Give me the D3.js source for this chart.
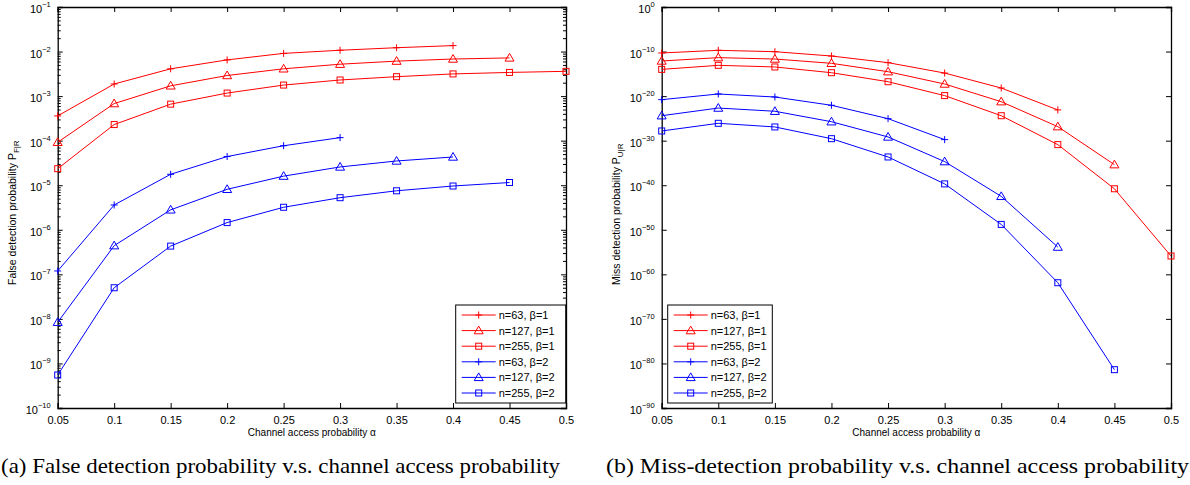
<!DOCTYPE html>
<html>
<head>
<meta charset="utf-8">
<script src="https://cdn.jsdelivr.net/npm/d3@7"></script>
<style>
  body { margin: 0; background: #fff; }
  svg { display: block; }
  text { font-family: "Liberation Sans", Arial, sans-serif; }
</style>
</head>
<body>
<div id="chart"></div>
<script>
// channel access probability on the x axis
const alphaVals = [0.05, 0.1, 0.15, 0.2, 0.25, 0.3, 0.35, 0.4, 0.45, 0.5]
const xTicks = [0.05, 0.1, 0.15, 0.2, 0.25, 0.3, 0.35, 0.4, 0.45, 0.5]

// (a) false detection probability
const falseN63B1 = [3.6e-4, 1.87e-3, 4.1e-3, 6.5e-3, 9.1e-3, 1.07e-2, 1.22e-2, 1.36e-2]
const falseN127B1 = [9.2e-5, 6.8e-4, 1.7e-3, 2.9e-3, 4.1e-3, 5.2e-3, 6.1e-3, 6.8e-3, 7.2e-3]
const falseN255B1 = [2.35e-5, 2.3e-4, 6.6e-4, 1.17e-3, 1.77e-3, 2.3e-3, 2.73e-3, 3.15e-3, 3.4e-3, 3.6e-3]
const falseN63B2 = [1.19e-7, 3.6e-6, 1.76e-5, 4.4e-5, 7.7e-5, 1.17e-4]
const falseN127B2 = [8.4e-9, 4.4e-7, 2.8e-6, 8.1e-6, 1.6e-5, 2.57e-5, 3.5e-5, 4.3e-5]
const falseN255B2 = [5.5e-10, 5.0e-8, 4.3e-7, 1.45e-6, 3.2e-6, 5.25e-6, 7.5e-6, 9.6e-6, 1.15e-5]
const falseExps = [-1, -2, -3, -4, -5, -6, -7, -8, -9, -10]

// (b) miss detection probability
const missN63B1 = [4.8e-11, 1.9e-10, 9.3e-11, 1.0e-11, 3.2e-13, 1.5e-15, 6.6e-19, 7.9e-24]
const missN127B1 = [7.6e-13, 4.3e-12, 2.1e-12, 2.3e-13, 3.0e-15, 5.2e-18, 5.6e-22, 1.4e-27, 4.1e-36]
const missN255B1 = [1.0e-14, 8.1e-14, 3.5e-14, 1.8e-15, 1.7e-17, 1.3e-20, 4.0e-25, 1.3e-31, 1.6e-41, 1.3e-56]
const missN63B2 = [1.6e-21, 3.0e-20, 6.3e-21, 8.7e-23, 8.7e-26, 1.7e-30]
const missN127B2 = [4.0e-25, 2.1e-23, 4.0e-24, 1.8e-26, 6.8e-30, 2.0e-35, 3.2e-43, 1.3e-54]
const missN255B2 = [1.5e-28, 7.9e-27, 1.2e-27, 2.8e-30, 2.2e-34, 2.0e-40, 1.6e-49, 1.3e-62, 4.0e-82]
const missExps = [0, -10, -20, -30, -40, -50, -60, -70, -80, -90]

const seriesNames = ["n=63, β=1", "n=127, β=1", "n=255, β=1", "n=63, β=2", "n=127, β=2", "n=255, β=2"]
const seriesColors = ["#ff0000", "#ff0000", "#ff0000", "#0000ff", "#0000ff", "#0000ff"]
const seriesMarkers = ["plus", "triangle", "square", "plus", "triangle", "square"]

const width = 1190
const height = 485

const svg = d3.select("#chart").append("svg")
  .attr("width", width)
  .attr("height", height)
  .style("background", "#fff")

function drawMarker(g, type, cx, cy, color) {
  if (type == "plus") {
    g.append("path")
      .attr("d", `M${cx-3.5},${cy}H${cx+3.5}M${cx},${cy-3.5}V${cy+3.5}`)
      .attr("stroke", color).attr("stroke-width", 1).attr("fill", "none")
  } else if (type == "triangle") {
    g.append("path")
      .attr("d", `M${cx},${cy-4.5}L${cx+4.5},${cy+3.2}L${cx-4.5},${cy+3.2}Z`)
      .attr("stroke", color).attr("stroke-width", 1).attr("fill", "none")
  } else {
    g.append("rect")
      .attr("x", cx-3).attr("y", cy-3).attr("width", 6).attr("height", 6)
      .attr("stroke", color).attr("stroke-width", 1).attr("fill", "none")
  }
}

function drawPanel(p) {
  const x = d3.scaleLinear().domain([0.05, 0.5]).range([p.left, p.right])
  const y = d3.scaleLog().domain([Math.pow(10, d3.min(p.exps)), Math.pow(10, d3.max(p.exps))]).range([408, 7])
  const g = svg.append("g")

  // axes, ticks pointing inward like matlab
  g.append("g")
    .attr("transform", "translate(0,408)")
    .call(d3.axisBottom(x).tickValues(xTicks).tickSize(-5).tickPadding(8).tickFormat(d3.format("")))
  g.append("g")
    .attr("transform", "translate(0,7)")
    .call(d3.axisTop(x).tickValues(xTicks).tickSize(-5).tickFormat(""))

  const yVals = p.exps.map(e => Math.pow(10, e))
  g.append("g")
    .attr("transform", `translate(${p.left},0)`)
    .call(d3.axisLeft(y).tickValues(yVals).tickSize(-5).tickFormat(""))
  g.append("g")
    .attr("transform", `translate(${p.right},0)`)
    .call(d3.axisRight(y).tickValues(yVals).tickSize(-5).tickFormat(""))

  if (p.minor) {
    const minors = []
    p.exps.forEach(e => {
      for (let k = 2; k < 10; k++) {
        const v = k * Math.pow(10, e)
        if (v < Math.pow(10, d3.max(p.exps))) minors.push(v)
      }
    })
    g.append("g")
      .attr("transform", `translate(${p.left},0)`)
      .call(d3.axisLeft(y).tickValues(minors).tickSize(-3).tickFormat(""))
      .select(".domain").remove()
    g.append("g")
      .attr("transform", `translate(${p.right},0)`)
      .call(d3.axisRight(y).tickValues(minors).tickSize(-3).tickFormat(""))
      .select(".domain").remove()
  }

  g.selectAll(".domain").attr("stroke", "#000").attr("stroke-width", 1.3)
  g.selectAll(".tick line").attr("stroke", "#000")
  g.selectAll(".tick text").attr("font-size", 11).attr("fill", "#000")

  // y tick labels 10^k
  p.exps.forEach(e => {
    const t = g.append("text")
      .attr("x", p.left - 7)
      .attr("y", y(Math.pow(10, e)) + 6)
      .attr("text-anchor", "end")
      .attr("font-size", 11)
    t.append("tspan").text("10")
    t.append("tspan").attr("dy", -6).attr("font-size", 7.5).text(e == 0 ? "0" : "\u2212" + (-e))
  })

  // lines + markers
  p.series.forEach((vals, i) => {
    const pts = vals.map((v, j) => [x(alphaVals[j]), y(v)])
    g.append("path")
      .attr("d", d3.line()(pts))
      .attr("fill", "none")
      .attr("stroke", seriesColors[i])
      .attr("stroke-width", 1)
    pts.forEach(pt => drawMarker(g, seriesMarkers[i], pt[0], pt[1], seriesColors[i]))
  })

  // x label
  g.append("text")
    .attr("x", (p.left + p.right) / 2)
    .attr("y", 436)
    .attr("text-anchor", "middle")
    .attr("font-size", 10)
    .text("Channel access probability \u03b1")

  // y label
  const yl = g.append("text")
    .attr("transform", `translate(${p.ylabX},285)rotate(-90)`)
    .attr("font-size", 10.5)
  yl.append("tspan").text(p.ylab)
  yl.append("tspan").attr("dy", 3).attr("font-size", 8).text(p.ysub)

  // legend
  const lg = g.append("g")
  lg.append("rect")
    .attr("x", p.legX).attr("y", 305)
    .attr("width", p.legW).attr("height", 98)
    .attr("fill", "#fff").attr("stroke", "#000").attr("stroke-width", 1)
  seriesNames.forEach((name, i) => {
    const ly = 315 + i * 15.6
    lg.append("line")
      .attr("x1", p.legX + 6).attr("x2", p.legX + 40)
      .attr("y1", ly).attr("y2", ly)
      .attr("stroke", seriesColors[i]).attr("stroke-width", 1)
    drawMarker(lg, seriesMarkers[i], p.legX + 23, ly, seriesColors[i])
    lg.append("text")
      .attr("x", p.legX + 43).attr("y", ly + 4)
      .attr("font-size", 11)
      .text(name)
  })

  // caption (serif, like the latex subfigure caption)
  svg.append("text")
    .attr("x", p.capX).attr("y", 473)
    .style("font-family", "'Liberation Serif', 'DejaVu Serif', serif")
    .attr("font-size", 21)
    .attr("textLength", p.capW)
    .attr("lengthAdjust", "spacingAndGlyphs")
    .text(p.caption)
}

drawPanel({
  left: 57.7, right: 566, exps: falseExps, minor: true,
  series: [falseN63B1, falseN127B1, falseN255B1, falseN63B2, falseN127B2, falseN255B2],
  ylab: "False detection probability P", ysub: "F|R", ylabX: 16,
  legX: 455.7, legW: 110,
  capX: 1, capW: 559,
  caption: "(a) False detection probability v.s. channel access probability"
})

drawPanel({
  left: 661.7, right: 1171, exps: missExps, minor: false,
  series: [missN63B1, missN127B1, missN255B1, missN63B2, missN127B2, missN255B2],
  ylab: "Miss detection probability P", ysub: "U|R", ylabX: 620,
  legX: 667.7, legW: 104.6,
  capX: 606, capW: 583,
  caption: "(b) Miss-detection probability v.s. channel access probability"
})
</script>
</body>
</html>
